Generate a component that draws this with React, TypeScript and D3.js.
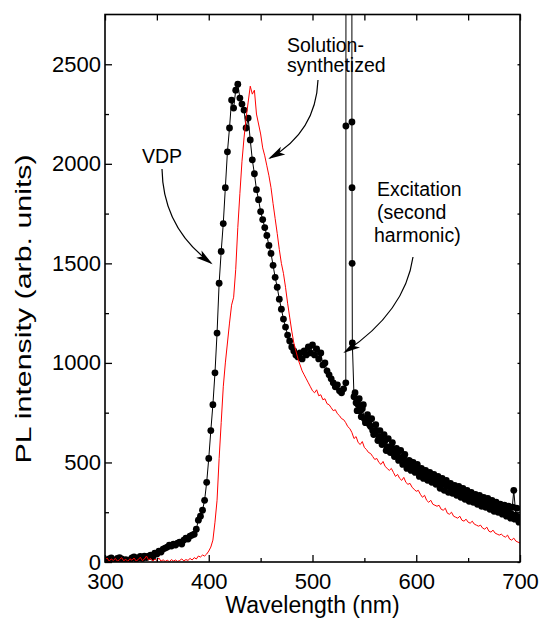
import { useRef, useEffect } from "react";
import { select, scaleLinear, line, axisBottom, axisLeft, axisTop, axisRight } from "d3";

// VDP sample (black dots), 300-530 nm every 2 nm
const vdpLow = [
  12, 8, 15, 20, 10, 5, 18, 22, 15, 8,
  12, 5, 10, 20, 25, 15, 20, 28, 18, 30,
  22, 30, 35, 25, 45, 40, 55, 50, 65, 70,
  75, 85, 80, 90, 85, 95, 100, 90, 110, 120,
  115, 130, 135, 140, 165, 210, 230, 260, 310, 400,
  520, 660, 790, 950, 1150, 1400, 1560, 1700, 1880, 2060,
  2180, 2320, 2280, 2370, 2400, 2330, 2300, 2270, 2180, 2230,
  2120, 2020, 1950, 1870, 1820, 1760, 1720, 1680, 1640, 1590,
  1550, 1490, 1430, 1380, 1320, 1270, 1220, 1180, 1140, 1110,
  1080, 1060, 1040, 1030, 1050, 1020, 1060, 1040, 1080, 1050,
  1090, 1040, 1070, 1020, 1050, 990, 1000, 960, 940, 920,
  900, 880, 890, 860, 850, 870,
];
// VDP sample, 540-700 nm every 2 nm
const vdpHigh = [
  830, 800, 790, 760, 770, 720, 700, 710, 680, 660,
  650, 660, 630, 620, 600, 610, 580, 570, 580, 550,
  540, 550, 525, 520, 530, 500, 490, 505, 475, 470,
  480, 455, 450, 460, 440, 430, 445, 420, 425, 410,
  400, 415, 395, 390, 405, 380, 385, 370, 365, 375,
  355, 350, 360, 340, 335, 345, 325, 330, 315, 320,
  310, 305, 315, 295, 290, 300, 280, 285, 270, 275,
  260, 270, 255, 250, 265, 245, 240, 360, 235, 215,
  225,
];
// VDP sample, 541-699 nm every 2 nm (interleaved scan points)
const vdpOdd = [
  850, 760, 820, 730, 790, 700, 740, 690, 720, 640,
  690, 610, 660, 590, 640, 560, 620, 550, 600, 530,
  570, 510, 560, 490, 540, 470, 510, 460, 500, 450,
  490, 430, 470, 420, 460, 410, 450, 400, 440, 390,
  430, 370, 420, 360, 410, 350, 395, 345, 385, 335,
  380, 325, 370, 315, 360, 305, 350, 300, 340, 290,
  335, 280, 325, 275, 320, 265, 310, 255, 300, 250,
  290, 240, 285, 230, 280, 220, 275, 215, 270, 200,
];
// excitation (second harmonic) spike in the VDP scan
const spikeWl = [532.1, 532.2, 532.6, 537.6, 538.0, 538.1, 538.2, 538.4];
const spikeVal = [900, 2190, 9000, 9000, 2210, 1880, 1500, 1100];

// solution-synthetized sample (red line), 300-700 nm every 2 nm
const solVal = [
  10, 20, 5, 15, 8, 18, 4, 12, 22, 6,
  14, 3, 16, 9, 20, 5, 12, 24, 7, 15,
  30, 10, 18, 5, 14, 8, 20, 4, 11, 3,
  9, 2, 12, 5, 10, 3, 8, 15, 6, 12,
  8, 18, 10, 22, 15, 30, 25, 35, 30, 40,
  55, 75, 110, 200, 310, 520, 700, 880, 1000, 1100,
  1200, 1290, 1330, 1470, 1680, 1850, 2010, 2130, 2230, 2310,
  2390, 2350, 2370, 2250, 2200, 2150, 2080, 2040, 1990, 1940,
  1880, 1800, 1725, 1650, 1570, 1500, 1450, 1380, 1300, 1230,
  1160, 1100, 1060, 1020, 990, 960, 940, 920, 900, 880,
  860, 850, 865, 835, 840, 815, 820, 795, 790, 775,
  760, 765, 745, 735, 720, 715, 700, 680, 670, 650,
  620, 630, 600, 590, 605, 575, 565, 550, 545, 530,
  515, 520, 500, 490, 505, 480, 470, 460, 470, 450,
  430, 440, 420, 410, 425, 400, 390, 395, 375, 365,
  355, 360, 340, 325, 335, 310, 300, 310, 290, 285,
  280, 285, 265, 260, 270, 245, 240, 250, 230, 225,
  220, 230, 210, 205, 215, 200, 195, 205, 190, 185,
  180, 185, 170, 165, 175, 155, 150, 160, 145, 140,
  135, 140, 130, 125, 135, 115, 110, 120, 105, 100,
  95,
];

const xTicks = [300, 400, 500, 600, 700];
const xMinor = [350, 450, 550, 650];
const yTicks = [0, 500, 1000, 1500, 2000, 2500];
const yMinor = [250, 750, 1250, 1750, 2250];

const FONT = "'Liberation Sans', Arial, sans-serif";

function arrow(g, x0, y0, cx, cy, x1, y1) {
  g.append("path")
    .attr("d", `M${x0},${y0} Q${cx},${cy} ${x1},${y1}`)
    .attr("fill", "none")
    .attr("stroke", "#000")
    .attr("stroke-width", 1.2);
  const a = Math.atan2(y1 - cy, x1 - cx);
  const len = 15, hw = 4.5;
  const bx = x1 - len * Math.cos(a), by = y1 - len * Math.sin(a);
  const px = -Math.sin(a) * hw, py = Math.cos(a) * hw;
  g.append("path")
    .attr("d", `M${x1 + 2 * Math.cos(a)},${y1 + 2 * Math.sin(a)} L${bx + px},${by + py} L${bx + 4 * Math.cos(a)},${by + 4 * Math.sin(a)} L${bx - px},${by - py}Z`)
    .attr("fill", "#000");
}

export default function App() {
  const svgRef = useRef(null);

  useEffect(() => {
    const svg = select(svgRef.current);
    svg.selectAll("*").remove();

    const left = 105, right = 520, top = 14.5, bottom = 562;
    const x = scaleLinear().domain([300, 700]).range([left, right]);
    const y = scaleLinear().domain([0, 2750]).range([bottom, top]);

    const vdp = [
      ...vdpLow.map((v, i) => [300 + 2 * i, v]),
      ...spikeWl.map((w, i) => [w, spikeVal[i]]),
      ...vdpHigh.map((v, i) => [540 + 2 * i, v]),
    ];
    const vdpExtra = vdpOdd.map((v, i) => [541 + 2 * i, v]);
    const sol = solVal.map((v, i) => [300 + 2 * i, v]);

    svg.append("defs").append("clipPath").attr("id", "plot")
      .append("rect").attr("x", left).attr("y", top)
      .attr("width", right - left).attr("height", bottom - top);

    const path = line().x((d) => x(d[0])).y((d) => y(d[1]));
    const data = svg.append("g").attr("clip-path", "url(#plot)");

    data.append("path").datum(vdp).attr("d", path)
      .attr("fill", "none").attr("stroke", "#000").attr("stroke-width", 1);
    data.selectAll("circle").data([...vdp, ...vdpExtra]).join("circle")
      .attr("cx", (d) => x(d[0])).attr("cy", (d) => y(d[1]))
      .attr("r", 3.4).attr("fill", "#000");
    data.append("path").datum(sol).attr("d", path)
      .attr("fill", "none").attr("stroke", "#ff0000").attr("stroke-width", 1);

    // axes (ticks point inwards)
    const style = (g) => {
      g.select(".domain").remove();
      g.selectAll("line").attr("stroke", "#000").attr("stroke-width", 1.3);
      g.selectAll("text").attr("font-family", FONT).attr("font-size", 22).attr("fill", "#000");
    };
    const fmt = (d) => String(d);
    svg.append("g").attr("transform", `translate(0,${bottom})`)
      .call(axisBottom(x).tickValues(xTicks).tickSize(-7).tickPadding(11).tickFormat(fmt)).call(style);
    svg.append("g").attr("transform", `translate(0,${bottom})`)
      .call(axisBottom(x).tickValues(xMinor).tickSize(-4).tickFormat(() => "")).call(style);
    svg.append("g").attr("transform", `translate(${left},0)`)
      .call(axisLeft(y).tickValues(yTicks).tickSize(-7).tickPadding(4).tickFormat(fmt)).call(style);
    svg.append("g").attr("transform", `translate(${left},0)`)
      .call(axisLeft(y).tickValues(yMinor).tickSize(-4).tickFormat(() => "")).call(style);
    svg.append("g").attr("transform", `translate(0,${top})`)
      .call(axisTop(x).tickValues([...xTicks, ...xMinor]).tickSize(-6).tickFormat(() => "")).call(style);
    svg.append("g").attr("transform", `translate(${right},0)`)
      .call(axisRight(y).tickValues([...yTicks, ...yMinor]).tickSize(-2.5).tickFormat(() => "")).call(style);

    svg.append("rect").attr("x", left).attr("y", top)
      .attr("width", right - left).attr("height", bottom - top)
      .attr("fill", "none").attr("stroke", "#000").attr("stroke-width", 1.6);

    // axis titles
    svg.append("text").attr("x", (left + right) / 2).attr("y", 613)
      .attr("text-anchor", "middle").attr("font-family", FONT).attr("font-size", 23)
      .text("Wavelength (nm)");
    svg.append("text").attr("transform", "translate(31,309) rotate(-90) scale(1.38,1)")
      .attr("text-anchor", "middle").attr("font-family", FONT).attr("font-size", 22)
      .text("PL intensity (arb. units)");

    // annotations
    const ann = svg.append("g").attr("font-family", FONT).attr("font-size", 19.5).attr("fill", "#000");
    ann.append("text").attr("x", 142).attr("y", 163.3).text("VDP");
    ann.append("text").attr("x", 287).attr("y", 51.7).text("Solution-");
    ann.append("text").attr("x", 287).attr("y", 71.5).text("synthetized");
    ann.append("text").attr("x", 377).attr("y", 196).text("Excitation");
    ann.append("text").attr("x", 377).attr("y", 219).text("(second");
    ann.append("text").attr("x", 374).attr("y", 242).text("harmonic)");

    const arr = svg.append("g");
    arrow(arr, 162, 169, 163, 228, 211, 263);
    arrow(arr, 318, 80, 316, 132, 270, 158);
    arrow(arr, 413, 257, 405, 312, 345, 352);
  }, []);

  return (
    <svg
      ref={svgRef}
      width={545}
      height={631}
      style={{ position: "absolute", left: 0, top: 0, background: "#fff" }}
    />
  );
}
